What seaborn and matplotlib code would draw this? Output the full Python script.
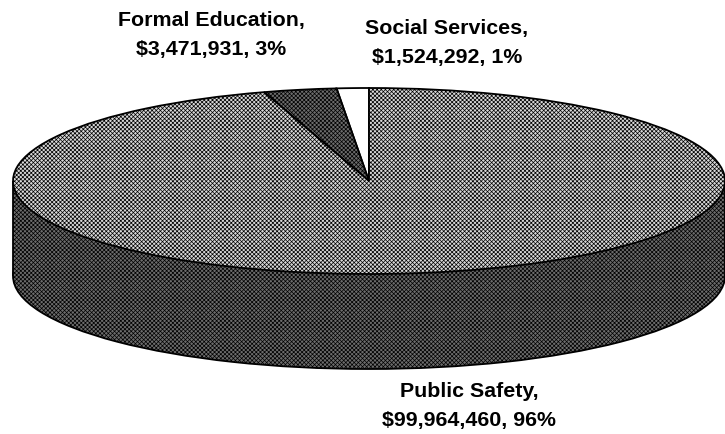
import matplotlib
matplotlib.use("Agg")
import matplotlib.pyplot as plt
import seaborn as sns

categories = ["Social Services", "Formal Education", "Public Safety"]
values = [1524292, 3471931, 99964460]
value_labels = ["$1,524,292", "$3,471,931", "$99,964,460"]
percents = ["1%", "3%", "96%"]
slice_colors = ["#ffffff", "#6c6c6c", "#d8d8d8"]
slice_hatches = ["", "xxxxxxxx", "xxxxxxxx"]
wall_color = "#6c6c6c"

sns.set_theme(style="white")
plt.rcParams["font.family"] = ["Liberation Sans", "DejaVu Sans"]
plt.rcParams["hatch.linewidth"] = 0.5

W, H = 725, 435
cx, cy, rx, ry, depth = 369, 182, 356, 93, 95

fig = plt.figure(figsize=(W / 100, H / 100), dpi=100)
ax = fig.add_axes([0, 0, 1, 1])

# bottom of the cylinder
ax.pie([1], colors=[wall_color], center=(0, -depth / ry), startangle=0, hatch="xxxxxxxx",
       wedgeprops=dict(edgecolor="black", linewidth=1.3), normalize=True)
ax.fill_between([-1, 1], [-depth / ry] * 2, [0, 0], facecolor=wall_color,
                edgecolor="black", hatch="xxxxxxxx", linewidth=0)
ax.vlines([-1, 1], -depth / ry, 0, color="black", linewidth=1.3)
# top face
ax.pie(values, colors=slice_colors, startangle=90, counterclock=True, hatch=slice_hatches,
       wedgeprops=dict(edgecolor="black", linewidth=1.3))

ax.set_aspect("auto")
ax.set_xlim((0 - cx) / rx, (W - cx) / rx)
ax.set_ylim((cy - H) / ry, cy / ry)
ax.axis("off")

def px(x, y):
    return (x / W, 1 - y / H)

label_pos = [(447, 43), (211, 35), (469, 406)]
for name, val, pct, (x, y) in zip(categories, value_labels, percents, label_pos):
    fig.text(*px(x, y), f"{name},\n{val}, {pct}", ha="center", va="center",
             fontsize=15.4, fontweight="bold", color="black", linespacing=1.72)

fig.savefig("out.png", dpi=100, facecolor="white")
